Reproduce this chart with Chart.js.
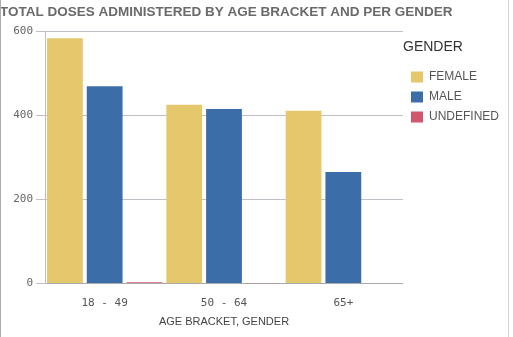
<!DOCTYPE html>
<html lang="en">
  <head>
    <meta charset="UTF-8" />
    <title>Total doses by age bracket and gender</title>
    <style>
      body {
        margin: 0;
        padding: 0;
        background: #fff;
      }

      .chart {
        position: relative;
        width: 513px;
        height: 337px;
      }

      /* thin frame lines seen at the edges of the screenshot */
      .edge-left,
      .edge-right {
        position: absolute;
        top: 0;
        width: 1px;
        height: 337px;
        background: #b4a6b9;
      }
      .edge-left { left: 0; }
      .edge-right { left: 508px; background: #d8d0da; }
    </style>
  </head>
  <body>
    <div class="chart">
      <canvas id="dosesChart" width="513" height="337"></canvas>
      <div class="edge-left"></div>
      <div class="edge-right"></div>
    </div>

    <script src="https://cdn.jsdelivr.net/npm/chart.js"></script>
    <script>
      // data
      const ageBrackets = ['18 - 49', '50 - 64', '65+'];
      const femaleDoses = [583, 425, 411];
      const maleDoses = [469, 415, 265];
      const undefinedDoses = [3, 1, 0];
      const yTicks = [0, 200, 400, 600];

      const ctx = document.getElementById('dosesChart');

      new Chart(ctx, {
        type: 'bar',
        data: {
          labels: ageBrackets,
          datasets: [
            { label: 'FEMALE', data: femaleDoses, backgroundColor: '#e5c86c' },
            { label: 'MALE', data: maleDoses, backgroundColor: '#3b6ea9' },
            { label: 'UNDEFINED', data: undefinedDoses, backgroundColor: '#d2576c' },
          ],
        },
        options: {
          responsive: false,
          animation: false,
          layout: { padding: { left: 0, right: 4, top: 0, bottom: 8 } },
          datasets: {
            bar: { categoryPercentage: 1.0, barPercentage: 0.9 },
          },
          plugins: {
            title: {
              display: true,
              text: 'TOTAL DOSES ADMINISTERED BY AGE BRACKET AND PER GENDER',
              align: 'start',
              color: '#6a6a6a',
              font: { family: 'Arial, "Liberation Sans"', size: 13.5, weight: 'bold' },
              padding: { top: 4, bottom: 11 },
            },
            legend: {
              position: 'right',
              align: 'start',
              fullSize: false,
              title: {
                display: true,
                text: 'GENDER',
                position: 'start',
                color: '#333',
                font: { family: 'Arial, "Liberation Sans"', size: 14 },
                padding: { top: 9, bottom: 6 },
              },
              labels: {
                boxWidth: 12,
                boxHeight: 11,
                padding: 8,
                color: '#555',
                font: { family: 'Arial, "Liberation Sans"', size: 12 },
              },
            },
            tooltip: { enabled: false },
          },
          scales: {
            x: {
              grid: { display: false },
              border: { display: true, color: '#aaa' },
              ticks: {
                color: '#555',
                padding: 5,
                font: { family: '"DejaVu Sans Mono"', size: 11 },
              },
              title: {
                display: true,
                text: 'AGE BRACKET, GENDER',
                color: '#444',
                font: { family: 'Arial, "Liberation Sans"', size: 11 },
                padding: { top: 1, bottom: 0 },
              },
            },
            y: {
              min: 0,
              max: 600,
              afterBuildTicks: (axis) => {
                axis.ticks = yTicks.map((v) => ({ value: v }));
              },
              afterFit: (axis) => {
                axis.width = 45;
              },
              grid: { color: '#c4bcc6', tickLength: 9 },
              border: { display: true, color: '#c4bcc6' },
              ticks: {
                color: '#666',
                padding: 3,
                font: { family: '"DejaVu Sans Mono"', size: 11 },
              },
            },
          },
        },
      });
    </script>
  </body>
</html>
